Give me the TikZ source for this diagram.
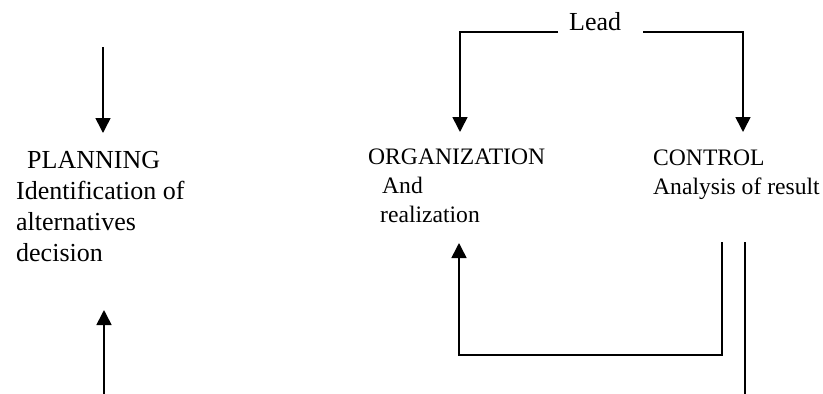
\documentclass[tikz,border=0pt]{standalone}
\usepackage{fontspec}
\setmainfont{Liberation Serif}
\usetikzlibrary{arrows.meta}
\begin{document}
\begin{tikzpicture}[x=1pt,y=-1pt,
  lbl/.style={anchor=base west,inner sep=0pt,font=\fontsize{23.6}{28}\selectfont},
  biglbl/.style={lbl,font=\fontsize{26}{31}\selectfont},
  link/.style={line width=1.6pt},
  arr/.style={link,-{Triangle[width=15pt,length=15pt]}}]
\useasboundingbox (0,0) rectangle (823,394);

% planning column
\node[biglbl] (plan1) at (27,168) {PLANNING};
\node[biglbl] (plan2) at (16,199) {Identification of};
\node[biglbl] (plan3) at (16,230) {alternatives};
\node[biglbl] (plan4) at (16,261) {decision};
\coordinate (pinTop) at (103,47);
\coordinate (pinTip) at (103,133);
\coordinate (pinBot) at (104,394);
\coordinate (pinTip2) at (104,310);
\draw[arr] (pinTop) -- (pinTip);
\draw[arr] (pinBot) -- (pinTip2);

% lead branching to organization and control
\node[biglbl] (lead) at (569,30) {Lead};
\coordinate (leadL) at (558,32);
\coordinate (leadR) at (643,32);
\coordinate (orgTip) at (460,132);
\coordinate (ctlTip) at (743,132);
\draw[arr] (leadL) -| (orgTip);
\draw[arr] (leadR) -| (ctlTip);

% organization and control texts
\node[lbl] (org1) at (368,164) {ORGANIZATION};
\node[lbl] (org2) at (382,193) {And};
\node[lbl] (org3) at (380,222) {realization};
\node[lbl] (ctl1) at (653,165) {CONTROL};
\node[lbl] (ctl2) at (653,194) {Analysis of result};

% feedback from control to organization
\coordinate (fbTop) at (722,242);
\coordinate (fbCorner) at (459,355);
\coordinate (fbTip) at (459,243);
\draw[arr] (fbTop) |- (fbCorner) -- (fbTip);
\coordinate (outTop) at (745,242);
\coordinate (outBot) at (745,394);
\draw[link] (outTop) -- (outBot);
\end{tikzpicture}
\end{document}
